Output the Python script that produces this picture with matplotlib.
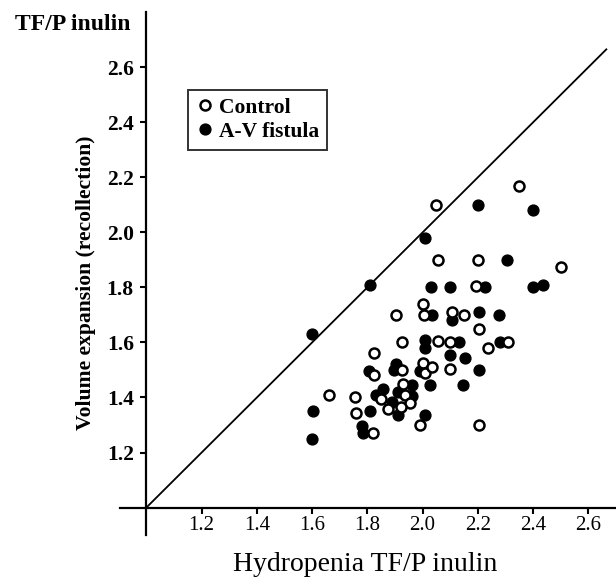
import matplotlib.pyplot as plt

plt.rcParams["font.family"] = ["Liberation Serif", "DejaVu Serif"]

# Control (open circles)
control_x = [2.35, 2.05, 2.055, 2.20, 2.50, 2.195, 2.00, 1.905, 2.005, 2.105,
             2.15, 2.205, 1.925, 2.055, 2.10, 2.31, 2.235, 1.825, 1.825, 1.925,
             2.00, 2.01, 2.035, 2.10, 1.93, 1.66, 1.755, 1.85, 1.935, 1.955,
             1.875, 1.92, 1.76, 1.99, 2.205, 1.82]
control_y = [2.17, 2.10, 1.90, 1.90, 1.875, 1.805, 1.74, 1.70, 1.70, 1.71,
             1.70, 1.65, 1.60, 1.605, 1.60, 1.60, 1.58, 1.56, 1.48, 1.50,
             1.525, 1.49, 1.51, 1.505, 1.45, 1.41, 1.40, 1.395, 1.41, 1.38,
             1.36, 1.365, 1.345, 1.30, 1.30, 1.27]

# A-V fistula (filled circles)
fistula_x = [2.20, 2.40, 2.01, 2.305, 1.81, 2.03, 2.10, 2.225, 2.40, 2.435,
             2.035, 2.105, 2.205, 2.275, 2.01, 2.01, 2.13, 2.28, 1.60, 2.10,
             2.155, 1.805, 1.905, 1.895, 1.99, 2.205, 1.96, 2.025, 2.145, 1.855,
             1.83, 1.91, 1.96, 1.89, 1.91, 2.01, 1.605, 1.81, 1.78, 1.785, 1.60]
fistula_y = [2.10, 2.08, 1.98, 1.90, 1.81, 1.80, 1.80, 1.80, 1.80, 1.81,
             1.70, 1.68, 1.71, 1.70, 1.61, 1.58, 1.60, 1.60, 1.63, 1.555,
             1.545, 1.495, 1.52, 1.50, 1.495, 1.50, 1.445, 1.445, 1.445, 1.43,
             1.41, 1.42, 1.405, 1.385, 1.335, 1.335, 1.35, 1.35, 1.295, 1.27, 1.25]

ticks = [1.2, 1.4, 1.6, 1.8, 2.0, 2.2, 2.4, 2.6]
identity = [1.0, 2.665]

fig = plt.figure(figsize=(6.16, 5.81), dpi=100)
ax = fig.add_axes([0.195, 0.079, 0.805, 0.9])

ax.plot(identity, identity, color="black", lw=1.3, zorder=1)
ax.plot(control_x, control_y, "o", ls="none", ms=7.2, mfc="white",
        mec="black", mew=1.8, label="Control", zorder=3)
ax.plot(fistula_x, fistula_y, "o", ls="none", ms=7.8, color="black",
        label="A-V fistula", zorder=2)

ax.set_xlim(0.905, 2.70)
ax.set_ylim(0.90, 2.80)
ax.spines["left"].set_position(("data", 1.0))
ax.spines["bottom"].set_position(("data", 1.0))
ax.spines["top"].set_visible(False)
ax.spines["right"].set_visible(False)
for s in ("left", "bottom"):
    ax.spines[s].set_linewidth(1.6)

ax.set_xticks(ticks)
ax.set_yticks(ticks)
ax.set_xticklabels([f"{t:.1f}" for t in ticks], fontsize=15)
ax.set_yticklabels([f"{t:.1f}" for t in ticks], fontsize=15.5, fontweight="bold")
ax.tick_params(direction="out", length=4, width=1.5)
ax.tick_params(axis="x", pad=2)
ax.tick_params(axis="y", pad=5)

fig.text(0.024, 0.957, "TF/P inulin", fontsize=17, fontweight="bold",
         ha="left", va="center")
fig.text(0.140, 0.513, "Volume expansion (recollection)", fontsize=15.6,
         fontweight="bold", rotation=90, ha="center", va="center")
fig.text(0.593, 0.028, "Hydropenia TF/P inulin", fontsize=20,
         ha="center", va="center")

leg = ax.legend(loc="upper left", bbox_to_anchor=(188 / 616, 1 - 90 / 581),
                bbox_transform=fig.transFigure, frameon=True, fancybox=False,
                edgecolor="black", handletextpad=0.2, borderpad=0.35,
                labelspacing=0.2, handlelength=0.9, borderaxespad=0,
                prop={"weight": "bold", "size": 15.5})
leg.get_frame().set_linewidth(1.4)

fig.savefig("out.png", dpi=100, facecolor="white")
